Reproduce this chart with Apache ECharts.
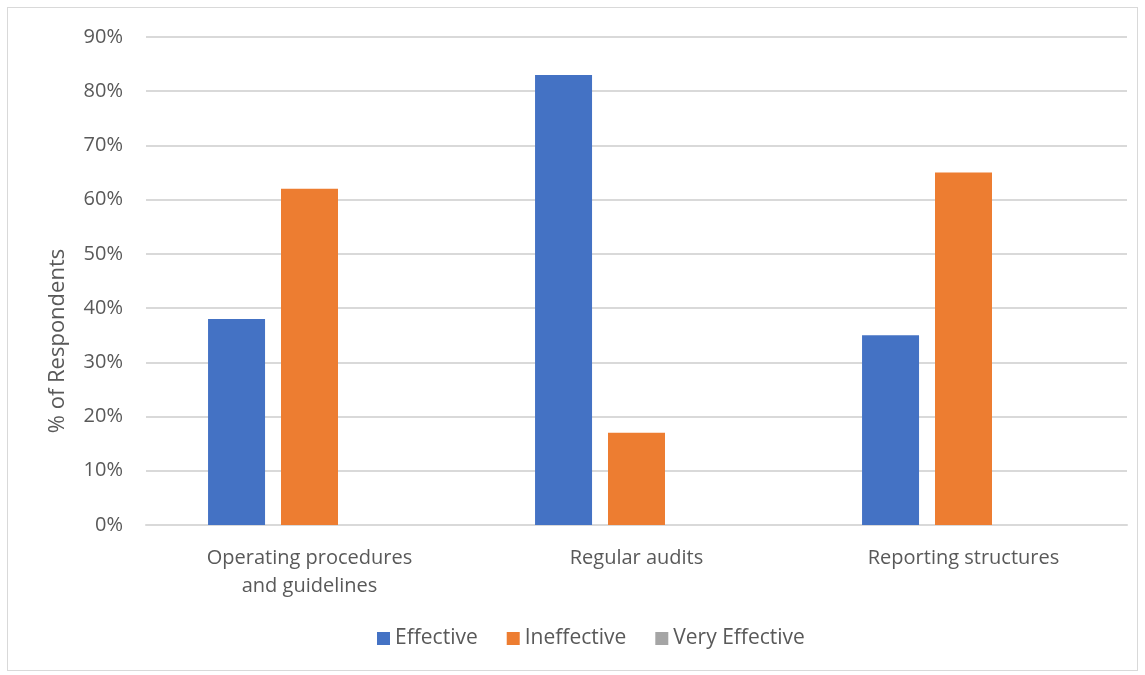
<!DOCTYPE html>
<html>
<head>
<meta charset="utf-8">
<script src="https://cdn.jsdelivr.net/npm/echarts@6/dist/echarts.min.js"></script>
<style>
  html, body { margin: 0; padding: 0; background: #fff; }
  #barChart {
    position: absolute; left: 7px; top: 7px;
    width: 1131px; height: 664px;
    border: 1px solid #d9d9d9; box-sizing: border-box;
  }
</style>
</head>
<body>
<div id="barChart"></div>
<script>
// categories
const categories = ['Operating procedures\nand guidelines', 'Regular audits', 'Reporting structures']
// % of respondents
const effective = [38, 83, 35]
const ineffective = [62, 17, 65]
const veryEffective = [0, 0, 0]
const seriesNames = ['Effective', 'Ineffective', 'Very Effective']

const chart = echarts.init(document.getElementById('barChart'))
const font = '"Open Sans", sans-serif'
const option = {
  animation: false,
  color: ['#4472c4', '#ed7d31', '#a5a5a5'],
  textStyle: { fontFamily: font },
  grid: { left: 138, right: 10, top: 29, bottom: 145 },
  legend: {
    bottom: 16,
    left: 364,
    itemWidth: 13,
    itemHeight: 13,
    itemGap: 29,
    icon: 'rect',
    textStyle: { color: '#595959', fontSize: 21, fontFamily: font },
    data: seriesNames
  },
  // axis title, placed like the original
  graphic: [{
    type: 'text',
    x: 50,
    y: 333,
    rotation: Math.PI / 2,
    style: {
      text: '% of Respondents',
      fill: '#595959',
      font: '22px "Open Sans", sans-serif',
      align: 'center',
      verticalAlign: 'middle'
    }
  }],
  xAxis: {
    type: 'category',
    data: categories,
    axisTick: { show: false },
    axisLine: { lineStyle: { color: '#d9d9d9', width: 2 } },
    axisLabel: { color: '#595959', fontSize: 20, lineHeight: 28, margin: 19, fontFamily: font }
  },
  yAxis: {
    type: 'value',
    min: 0,
    max: 90,
    interval: 10,
    axisLabel: { color: '#595959', fontSize: 20, margin: 23, formatter: '{value}%', fontFamily: font },
    splitLine: { lineStyle: { color: '#d9d9d9', width: 2 } }
  },
  series: [
    { name: seriesNames[0], type: 'bar', barWidth: 57, barGap: '28%', data: effective },
    { name: seriesNames[1], type: 'bar', barWidth: 57, barGap: '28%', data: ineffective },
    { name: seriesNames[2], type: 'bar', barWidth: 57, barGap: '28%', data: veryEffective }
  ]
}
chart.setOption(option, true)
</script>
</body>
</html>
